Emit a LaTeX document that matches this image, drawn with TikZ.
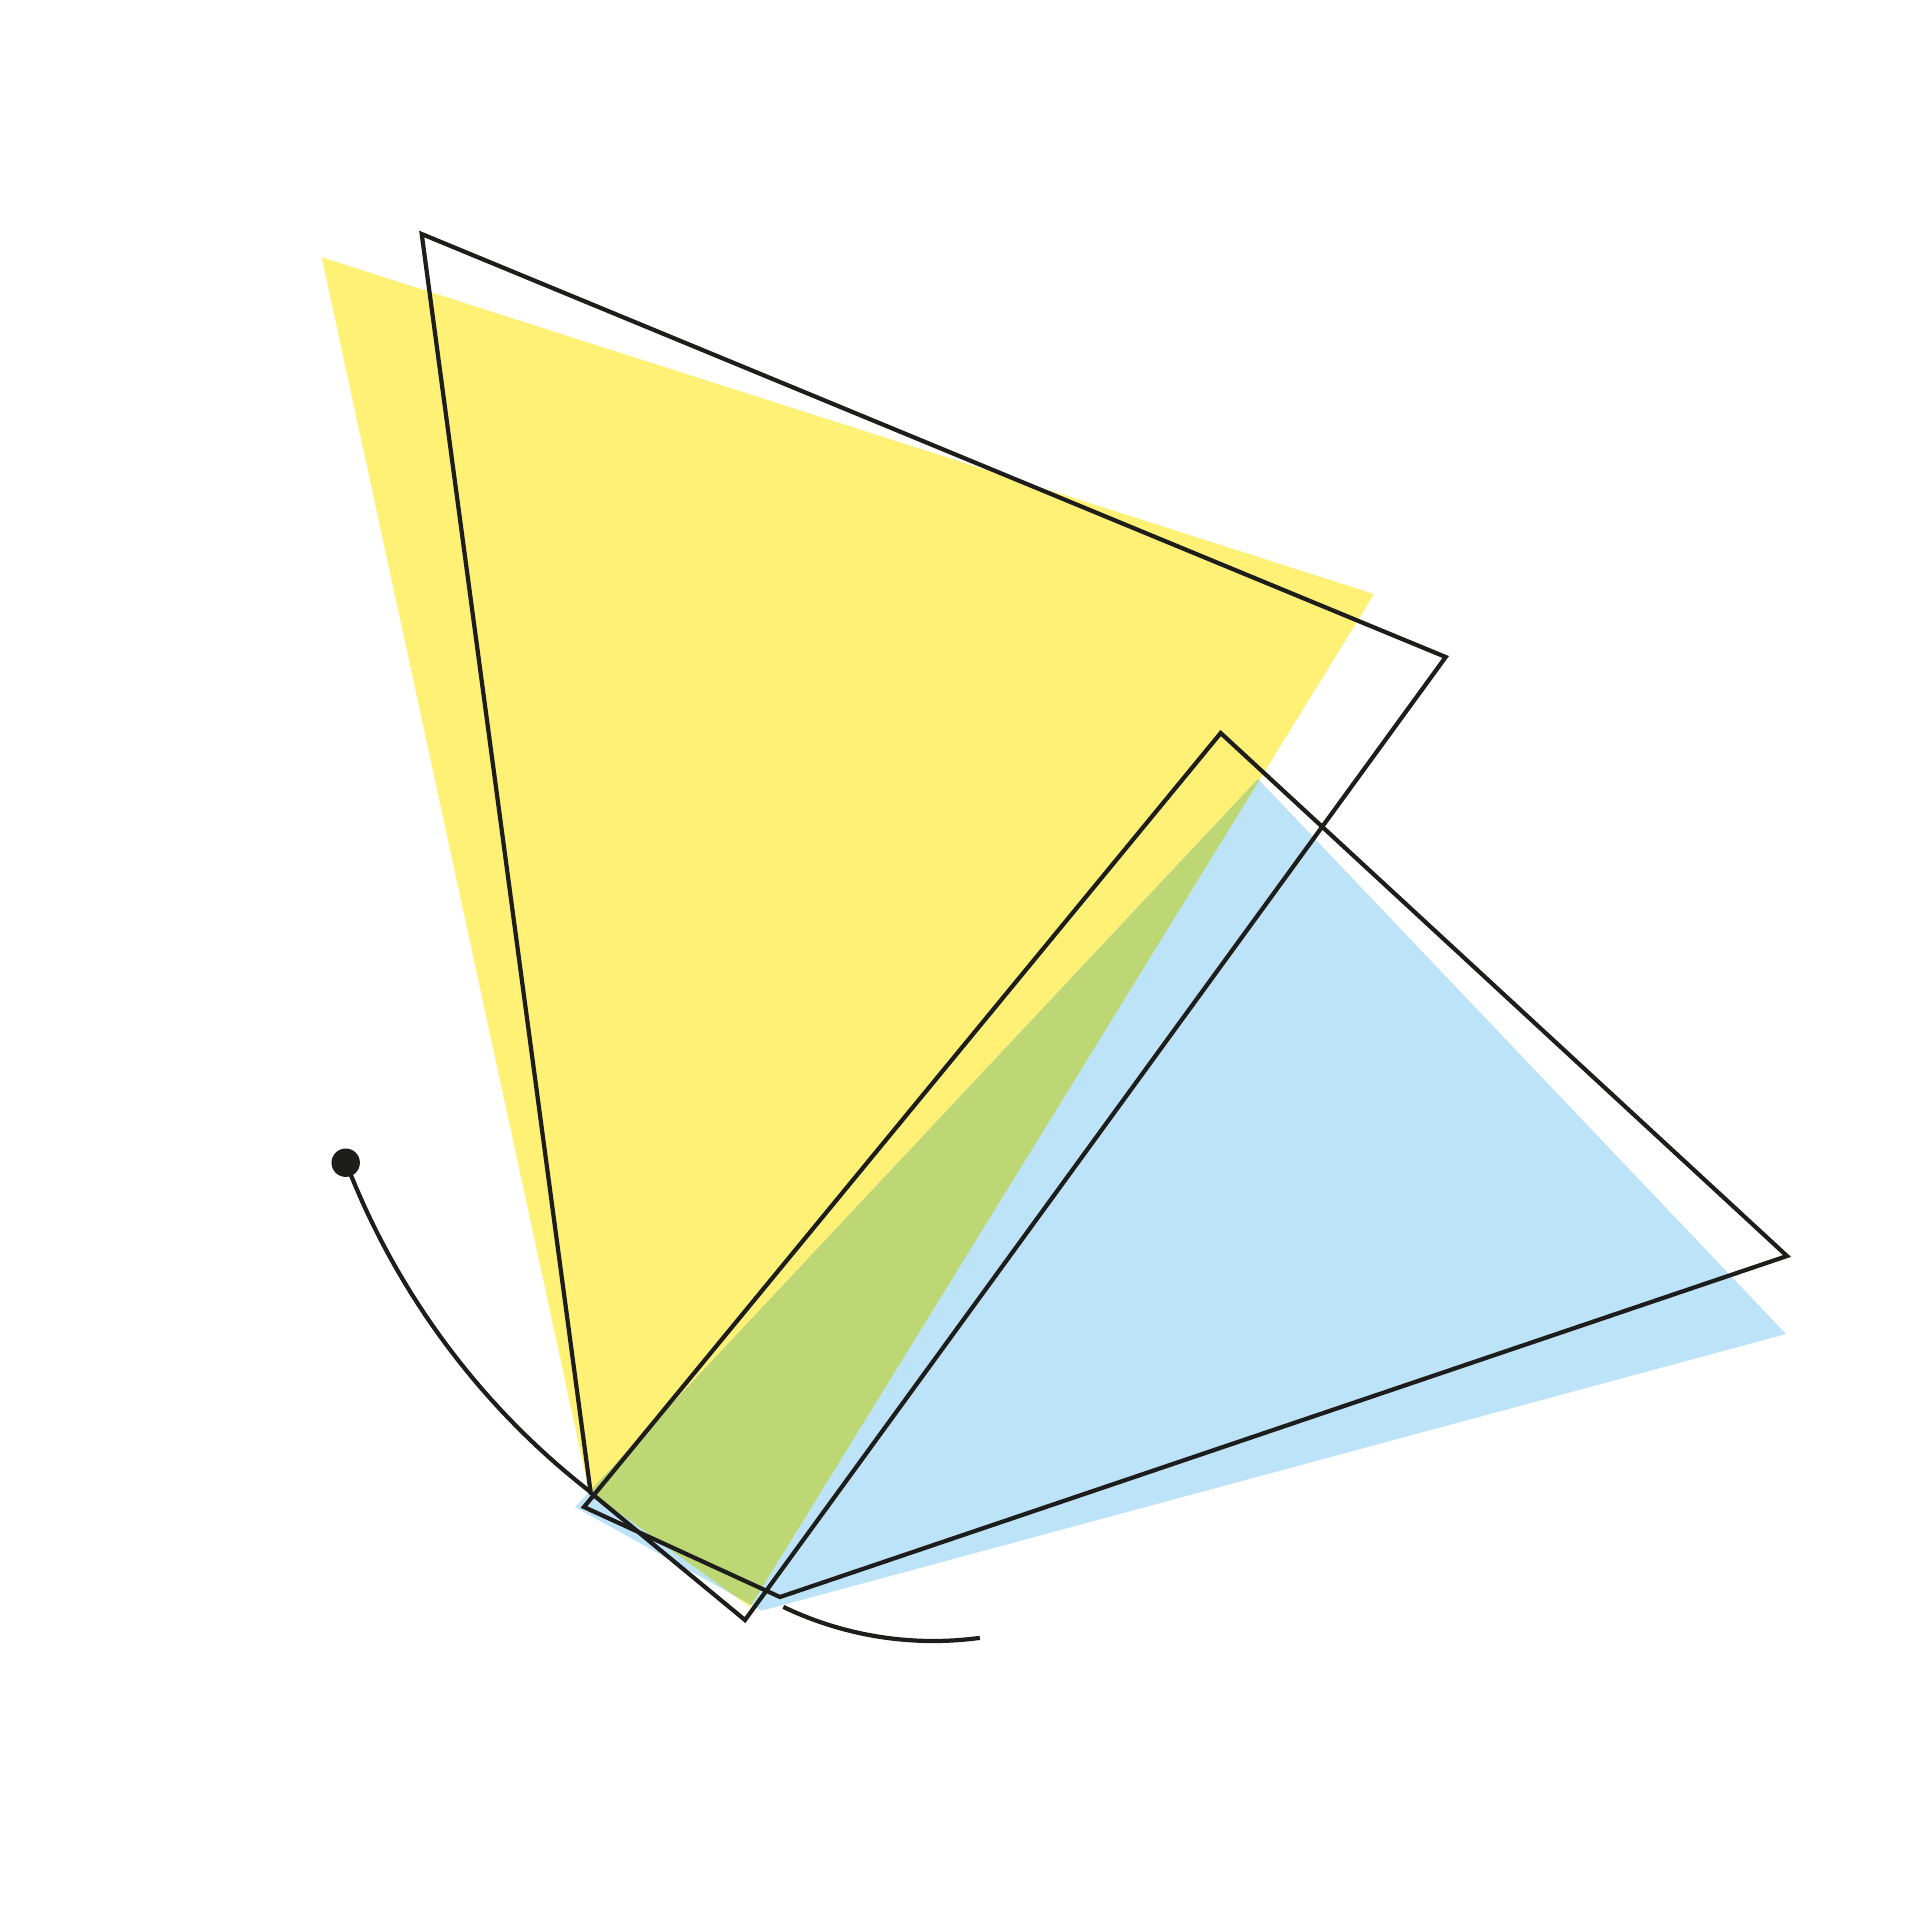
\documentclass[tikz,border=0pt]{standalone}
\definecolor{ylw}{HTML}{FFF176}
\definecolor{blu}{HTML}{BDE3F8}
\definecolor{grn}{HTML}{BED775}
\definecolor{ink}{HTML}{1D1D1B}
\begin{document}
\begin{tikzpicture}[x=0.01cm,y=-0.01cm,
  outline/.style={draw=ink,line width=1.2pt,line join=miter}]
\fill[white] (0,0) rectangle (1920,1920);
\useasboundingbox (0,0) rectangle (1920,1920);
% yellow quadrilateral
\coordinate (Y1) at (321.7,257.3);
\coordinate (Y2) at (1374,594);
\coordinate (Y3) at (750,1607);
\coordinate (Y4) at (589,1491);
% blue quadrilateral
\coordinate (B1) at (1258,779);
\coordinate (B2) at (1786,1334);
\coordinate (B3) at (761.7,1610.7);
\coordinate (B4) at (575,1507);
% outline 1
\coordinate (P1) at (421.7,234);
\coordinate (P2) at (1445.7,657);
\coordinate (P3) at (745,1620);
\coordinate (P4) at (590.7,1492.7);
% outline 2
\coordinate (Q1) at (1220.7,733);
\coordinate (Q2) at (1787,1256);
\coordinate (Q3) at (780,1597);
\coordinate (Q4) at (584,1507);
% dot
\coordinate (dot) at (345.7,1162.7);
\fill[ylw] (Y1)--(Y2)--(Y3)--(Y4)--cycle;
\fill[blu] (B1)--(B2)--(B3)--(B4)--cycle;
\begin{scope}
  \clip (B1)--(B2)--(B3)--(B4)--cycle;
  \fill[grn] (Y1)--(Y2)--(Y3)--(Y4)--cycle;
\end{scope}
\draw[outline] (P1)--(P2)--(P3)--(P4)--cycle;
\draw[outline] (Q1)--(Q2)--(Q3)--(Q4)--cycle;
\draw[outline] plot[domain=158.96:127.9,samples=80] ({1060+765*cos(\x)},{888+765*sin(\x)});
\draw[outline] plot[domain=115.6:82.3,samples=60] ({933.3+347*cos(\x)},{1294+347*sin(\x)});
\fill[ink] (dot) circle[radius=0.142cm];
\end{tikzpicture}
\end{document}
